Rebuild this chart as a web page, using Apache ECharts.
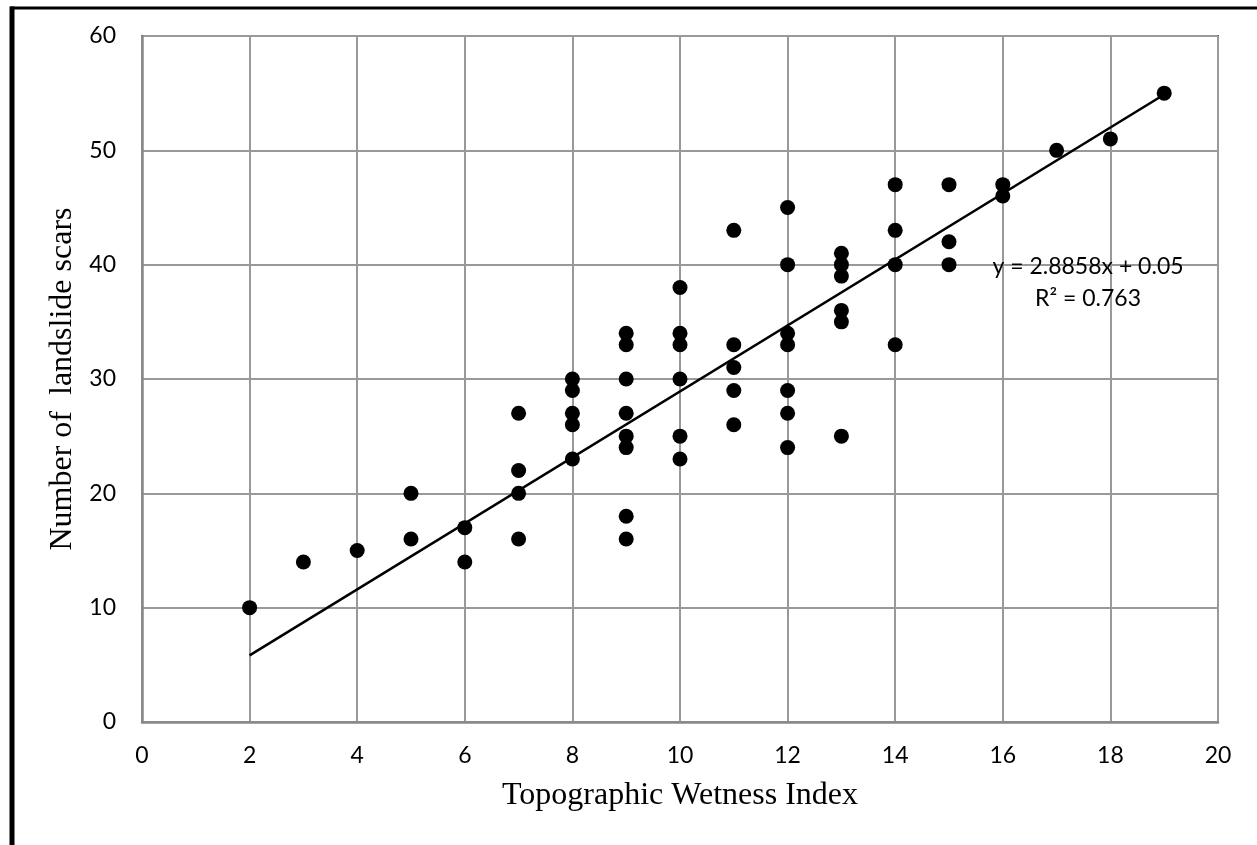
<!DOCTYPE html>
<html>
<head>
<meta charset="utf-8">
<script src="https://cdn.jsdelivr.net/npm/echarts@6/dist/echarts.min.js"></script>
<style>
html,body{margin:0;padding:0;background:#fff;}
#chart{width:1257px;height:845px;}
</style>
</head>
<body>
<div id="chart"></div>
<script>
// Topographic Wetness Index (x) values
const twi = [2,3,4,5,5,6,6,7,7,7,7,8,8,8,8,8,
  9,9,9,9,9,9,9,9,10,10,10,10,10,10,11,11,11,11,11,
  12,12,12,12,12,12,12,13,13,13,13,13,13,14,14,14,14,
  15,15,15,16,16,17,18,19];
// Number of landslide scars (y) values
const scars = [10,14,15,20,16,17,14,27,22,20,16,30,29,27,26,23,
  34,33,30,27,25,24,18,16,38,34,33,30,25,23,43,33,31,29,26,
  45,40,34,33,29,27,24,41,40,39,36,35,25,47,43,40,33,
  47,42,40,47,46,50,51,55];
// Linear trendline coefficients and R²
const slope = 2.8858;
const intercept = 0.05;
const r2 = 0.763;
// Axis ticks
const xTicks = {min:0, max:20, interval:2};
const yTicks = {min:0, max:60, interval:10};

const points = twi.map((x,i)=>[x, scars[i]]);
const xMin = Math.min(...twi), xMax = Math.max(...twi);
const trend = [[xMin, slope*xMin+intercept],[xMax, slope*xMax+intercept]];

const chart = echarts.init(document.getElementById('chart'));
const tickFont = {fontFamily:'Lato', fontSize:23, color:'#000'};
chart.setOption({
  animation:false,
  backgroundColor:'#fff',
  grid:{left:142, right:39, top:36, bottom:123, show:true, borderColor:'#555', borderWidth:2, backgroundColor:'#fff'},
  xAxis:{
    type:'value', min:xTicks.min, max:xTicks.max, interval:xTicks.interval,
    name:'Topographic Wetness Index', nameLocation:'middle', nameGap:58,
    nameTextStyle:{fontFamily:'Liberation Serif', fontSize:32, color:'#000'},
    axisLine:{show:true, onZero:false, lineStyle:{color:'#888', width:2.5}},
    axisTick:{show:false},
    axisLabel:Object.assign({margin:22}, tickFont),
    splitLine:{show:true, lineStyle:{color:'#999', width:2}}
  },
  yAxis:{
    type:'value', min:yTicks.min, max:yTicks.max, interval:yTicks.interval,
    name:'Number of  landslide scars', nameLocation:'middle', nameGap:63, nameRotate:90,
    nameTextStyle:{fontFamily:'Liberation Serif', fontSize:32, color:'#000'},
    axisLine:{show:true, onZero:false, lineStyle:{color:'#888', width:2.5}},
    axisTick:{show:false},
    axisLabel:Object.assign({margin:26}, tickFont),
    splitLine:{show:true, lineStyle:{color:'#999', width:2}}
  },
  series:[
    {type:'scatter', data:points, symbol:'circle', symbolSize:15,
      itemStyle:{color:'#000', opacity:1}, z:3},
    {type:'line', data:trend, showSymbol:false, symbol:'none',
      lineStyle:{color:'#000', width:2.5}, z:4, silent:true}
  ],
  graphic:[
    {type:'line', shape:{x1:10, y1:8, x2:1257, y2:8}, style:{stroke:'#000', lineWidth:3}, z:10},
    {type:'line', shape:{x1:12, y1:6.5, x2:12, y2:845}, style:{stroke:'#000', lineWidth:5}, z:10},
    {type:'text', x:1088, y:267, z:10,
      style:{text:'y = ' + slope + 'x + ' + intercept, fontFamily:'Lato', fontSize:23, fill:'#000', textAlign:'center', textVerticalAlign:'middle'}},
    {type:'text', x:1088, y:299, z:10,
      style:{text:'R² = ' + r2, fontFamily:'Lato', fontSize:23, fill:'#000', textAlign:'center', textVerticalAlign:'middle'}}
  ]
});
</script>
</body>
</html>
